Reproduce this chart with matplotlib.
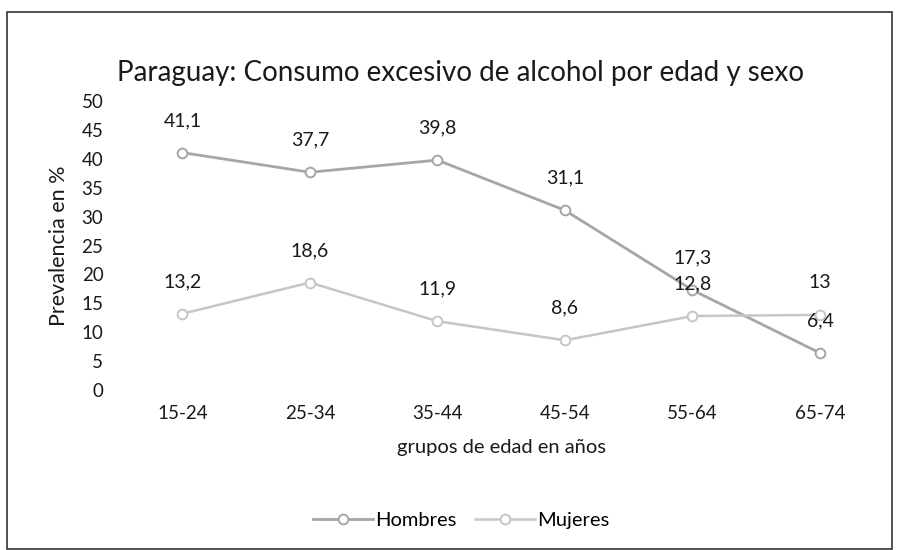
import matplotlib
matplotlib.use("Agg")
import matplotlib.pyplot as plt
from matplotlib.patches import Rectangle

plt.rcParams['font.family'] = ['Lato', 'DejaVu Sans']

grupos = ["15-24", "25-34", "35-44", "45-54", "55-64", "65-74"]
hombres = [41.1, 37.7, 39.8, 31.1, 17.3, 6.4]
mujeres = [13.2, 18.6, 11.9, 8.6, 12.8, 13]

colHombres = "#a6a6a6"
colMujeres = "#c6c6c6"
colTexto = "#1a1a1a"

fig = plt.figure(figsize=(8.99, 5.50), dpi=100)
ax = fig.add_axes([0.132, 0.291, 0.851, 0.525])

x = list(range(len(grupos)))
ax.plot(x, hombres, color=colHombres, linewidth=2.0, marker="o", markersize=7,
        markerfacecolor="white", markeredgecolor=colHombres, markeredgewidth=1.4,
        label="Hombres")
ax.plot(x, mujeres, color=colMujeres, linewidth=1.8, marker="o", markersize=7,
        markerfacecolor="white", markeredgecolor=colMujeres, markeredgewidth=1.4,
        label="Mujeres")

def fmt(v):
    return ("%g" % v).replace(".", ",")

# data labels sit about 32 px above each point
for i in x:
    for serie in (hombres, mujeres):
        ax.annotate(fmt(serie[i]), (i, serie[i]), xytext=(0, 32 * 0.72),
                    textcoords="offset points", ha="center", va="center",
                    fontsize=14, color=colTexto)

ax.set_xlim(-0.5, len(grupos) - 0.5)
ax.set_ylim(0, 50)
ax.set_yticks(range(0, 51, 5))
ax.set_xticks(x)
ax.set_xticklabels(grupos)
ax.tick_params(axis="both", length=0, labelsize=13.5, colors=colTexto)
ax.tick_params(axis="y", pad=11)
ax.tick_params(axis="x", pad=11)
for s in ax.spines.values():
    s.set_visible(False)

ax.set_xlabel("grupos de edad en años", fontsize=14.5, color=colTexto, labelpad=12)
ax.set_ylabel("Prevalencia en %", fontsize=15.5, color=colTexto, labelpad=9)

fig.text(0.512, 0.867, "Paraguay: Consumo excesivo de alcohol por edad y sexo",
         ha="center", va="center", fontsize=20, color=colTexto)

fig.legend(loc="center", bbox_to_anchor=(0.513, 0.053), ncol=2, frameon=False,
           fontsize=14.5, handlelength=3.0, columnspacing=0.9, handletextpad=0.1)

fig.patches.append(Rectangle((7 / 899, 1 / 550), 885 / 899, 537 / 550,
                             transform=fig.transFigure, fill=False,
                             edgecolor="#333333", linewidth=1.2))

plt.savefig("out.png", dpi=100)
